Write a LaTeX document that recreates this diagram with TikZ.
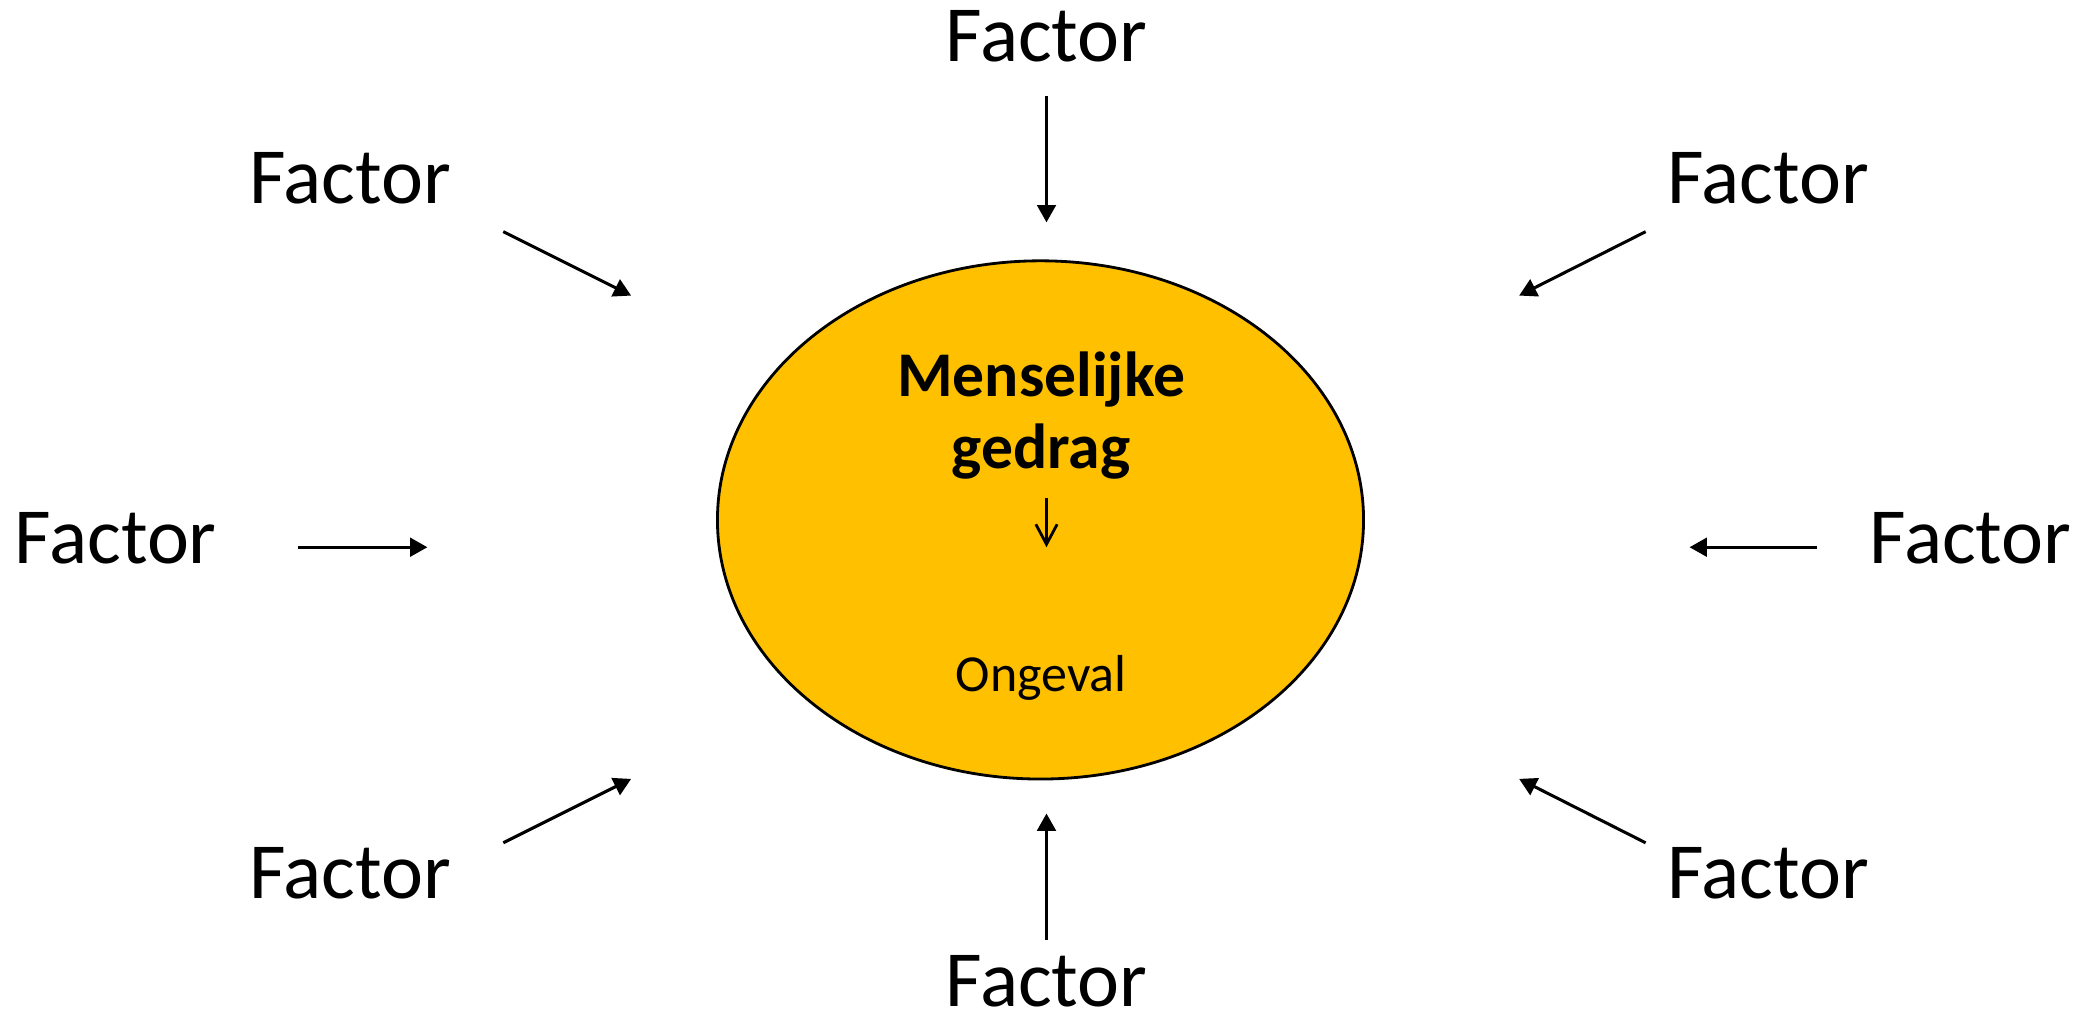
\documentclass[tikz,border=0pt]{standalone}
\usepackage{fontspec}
\setmainfont{Carlito}
\usetikzlibrary{arrows.meta,positioning,shapes.geometric}
\definecolor{gold}{RGB}{255,192,0}
\tikzset{
  factor/.style={
      anchor=base,
      inner sep=0pt,
      font=\fontsize{17}{20}\selectfont
  },
  influence/.style={
      line width=0.65pt,
      -{Triangle[length=1.3mm,width=1.4mm]}
  }
}

\begin{document}
\begin{tikzpicture}[x=0.01cm,y=-0.01cm]
    \useasboundingbox (0,0) rectangle (1566,765.4);
    \node[ellipse,draw=black,line width=0.6pt,fill=gold,
          minimum width=4.85cm,minimum height=3.89cm,inner sep=0pt] (behaviour) at (781.5,390.5) {};
    \node[anchor=base,font=\bfseries\fontsize{13.6}{16}\selectfont] (gedrag) at (782,298) {Menselijke};
    \node[anchor=base,font=\bfseries\fontsize{13.6}{16}\selectfont] (gedrag2) at (782,352) {gedrag};
    \node[anchor=base,font=\fontsize{11.1}{13}\selectfont] (accident) at (782,519) {Ongeval};
    \coordinate (inA) at (786,374);
    \coordinate (inB) at (786,411);
    \draw[line width=0.6pt,-{Straight Barb[length=1.5mm,width=1.6mm]}] (inA) -- (inB);
    % factors round the ellipse
    \node[factor] (fN) at (786,46) {Factor};
    \node[factor] (fNW) at (263,153) {Factor};
    \node[factor] (fNE) at (1328,153) {Factor};
    \node[factor] (fW) at (87,423) {Factor};
    \node[factor] (fE) at (1480,423) {Factor};
    \node[factor] (fSW) at (263,675) {Factor};
    \node[factor] (fSE) at (1328,675) {Factor};
    \node[factor] (fS) at (786,756) {Factor};
    % arrow ends
    \coordinate (nA) at (786,72);    \coordinate (nB) at (786,167);
    \coordinate (nwA) at (378,174);  \coordinate (nwB) at (474,222);
    \coordinate (neA) at (1236,174); \coordinate (neB) at (1141,222);
    \coordinate (wA) at (224,411);   \coordinate (wB) at (321,411);
    \coordinate (eA) at (1365,411);  \coordinate (eB) at (1269,411);
    \coordinate (swA) at (378,633);  \coordinate (swB) at (474,585);
    \coordinate (seA) at (1236,633); \coordinate (seB) at (1141,585);
    \coordinate (sA) at (786,706);   \coordinate (sB) at (786,611);
    \foreach \d in {n,nw,ne,w,e,sw,se,s}
      \draw[influence] (\d A) -- (\d B);
\end{tikzpicture}
\end{document}
